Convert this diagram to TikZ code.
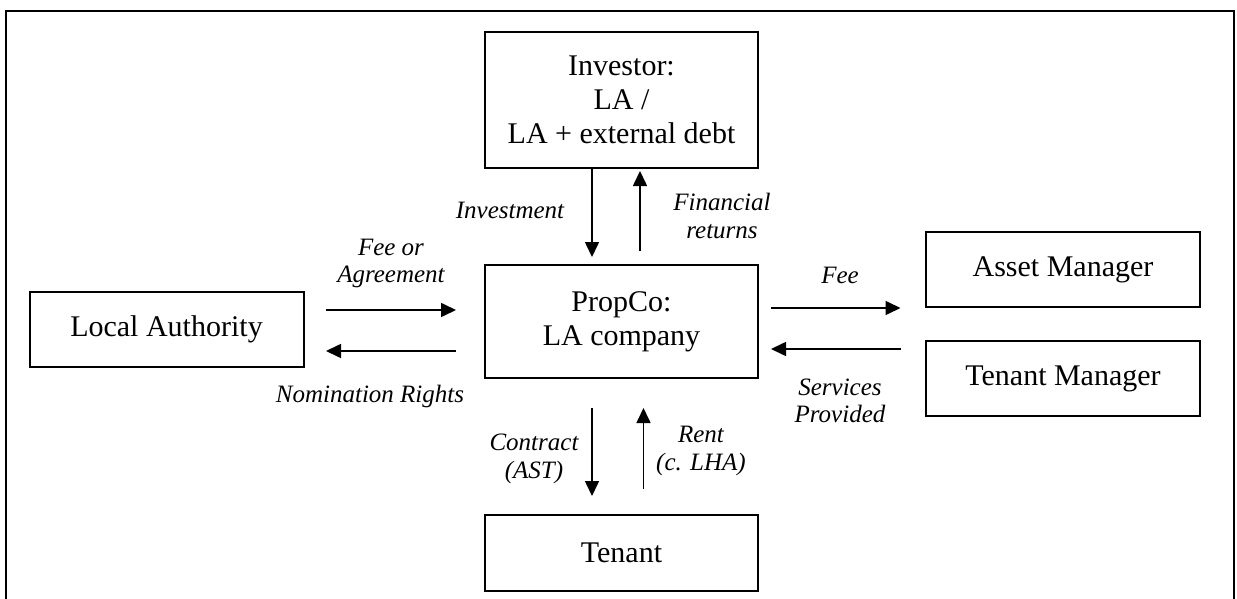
\documentclass[tikz,border=0pt]{standalone}
\usepackage{fontspec}
\setmainfont{Liberation Serif}
\usetikzlibrary{arrows.meta}
\begin{document}
\begin{tikzpicture}[x=0.5pt,y=-0.5pt,
  box/.style={draw,line width=1pt,align=center,inner sep=0pt,
    font=\fontsize{15pt}{17pt}\selectfont},
  lbl/.style={align=center,inner sep=0pt,
    font=\fontsize{12.5pt}{13.75pt}\selectfont\itshape},
  arr/.style={line width=0.8pt,-{Triangle[length=7.5pt,width=7pt]}}]
\useasboundingbox (0,0) rectangle (1237,599);
\draw[line width=1pt] (6,620) -- (6,11) -- (1234,11) -- (1234,620);
% boxes
\node[box,minimum width=136.5pt,minimum height=68pt] (inv) at (621.5,100) {Investor:\\LA /\\LA + external debt};
\node[box,minimum width=136.5pt,minimum height=56.5pt] (prop) at (621.5,321.5) {PropCo:\\LA company};
\node[box,minimum width=137pt,minimum height=37.5pt] (la) at (166.5,329.5) {Local Authority};
\node[box,minimum width=137pt,minimum height=37.5pt] (am) at (1063,269.5) {Asset Manager};
\node[box,minimum width=137pt,minimum height=37.5pt] (tm) at (1063,378.5) {Tenant Manager};
\node[box,minimum width=136.5pt,minimum height=38pt] (ten) at (621.5,553) {Tenant};
% helper coordinates
\coordinate (x592) at (592,0);
\coordinate (x640) at (640,0);
\coordinate (x643) at (643.5,0);
\coordinate (y310) at (0,310);
\coordinate (y351) at (0,351);
\coordinate (y308) at (0,308);
\coordinate (y349) at (0,349);
% arrows
\draw[arr,shorten >=3.5pt] (inv.south -| x592) -- (prop.north -| x592);
\draw[arr,shorten <=6.5pt,shorten >=1pt] (prop.north -| x640) -- (inv.south -| x640);
\draw[arr,shorten <=10.75pt,shorten >=14pt] (la.east |- y310) -- (prop.west |- y310);
\draw[arr,shorten <=14pt,shorten >=10.75pt] (prop.west |- y351) -- (la.east |- y351);
\draw[arr,shorten <=6pt,shorten >=12.25pt] (prop.east |- y308) -- (am.west |- y308);
\draw[arr,shorten <=12.25pt,shorten >=6pt] (tm.west |- y349) -- (prop.east |- y349);
\draw[arr,shorten <=14.5pt,shorten >=9pt] (prop.south -| x592) -- (ten.north -| x592);
\draw[arr,shorten <=12.5pt,shorten >=14.5pt] (ten.north -| x643) -- (prop.south -| x643);
% labels
\node[lbl] (l1) at (510,210) {Investment};
\node[lbl] (l2) at (722,216) {Financial\\returns};
\node[lbl] (l3) at (391,263.5) {Fee or\\Agreement};
\node[lbl] (l4) at (370,396) {Nomination Rights};
\node[lbl] (l5) at (840,275) {Fee};
\node[lbl] (l6) at (840,401) {Services\\Provided};
\node[lbl] (l7) at (534,459) {Contract\\(AST)};
\node[lbl] (l8) at (701,451) {Rent\\(c. LHA)};
\end{tikzpicture}
\end{document}
